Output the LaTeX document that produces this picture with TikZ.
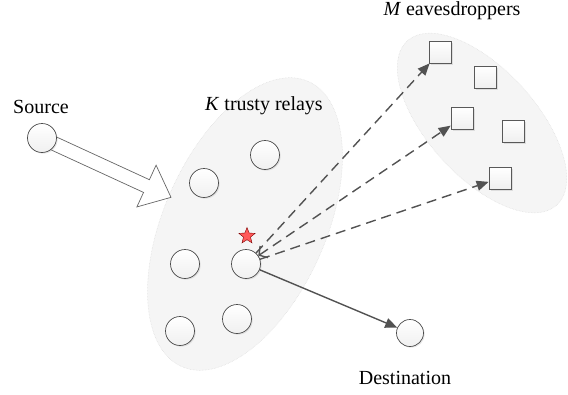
\documentclass[tikz,border=0pt]{standalone}
\usepackage{fontspec}
\setmainfont{LiberationSerif-Regular.ttf}[ItalicFont=LiberationSerif-Italic.ttf,BoldFont=LiberationSerif-Bold.ttf]
\usetikzlibrary{arrows.meta,shapes.geometric,shadows}
\begin{document}
\begin{tikzpicture}[x=1pt,y=-1pt,
  every node/.style={font=\rmfamily\fontsize{20}{24}\selectfont},
  grp/.style={fill=black!4,draw=black!14,densely dotted,line width=0.5pt},
  nodecirc/.style={circle,minimum size=29pt,inner sep=0pt,draw=black!70,line width=0.7pt,
    top color=white,bottom color=black!6,
    drop shadow={shadow xshift=1.2pt,shadow yshift=-1.2pt,opacity=0.18}},
  evesq/.style={rectangle,minimum size=22pt,inner sep=0pt,draw=black!65,line width=0.7pt,
    top color=white,bottom color=black!6,
    drop shadow={shadow xshift=1.5pt,shadow yshift=-1.5pt,opacity=0.2}},
  lnk/.style={draw=black!68,line width=1.4pt},
  tip/.style={-{Triangle[length=12pt,width=10pt]}},
  dsh/.style={dash pattern=on 10pt off 6pt},
]
\useasboundingbox (0,0) rectangle (568,394);
% groups
\draw[grp,rotate around={66:(245,224)}] (245,224) ellipse [x radius=156, y radius=81];
\draw[grp,rotate around={-47.7:(482,123)}] (482,123) ellipse [x radius=111, y radius=54];
% labels
\node (lsrc) at (41,107) {Source};
\node (lrel) at (264,106) {\textit{K} trusty relays};
\node (leve) at (452,11) {\textit{M} eavesdroppers};
\node (ldst) at (405,378) {Destination};
% hollow arrow
\begin{scope}[shift={(42,138)},rotate=-24.7,x=1pt,y=1pt]
  \draw[fill=white,draw=black!60,line width=0.7pt]
    (10,7) -- (115,7) -- (115,23) -- (142,0) -- (115,-23) -- (115,-7) -- (10,-7) -- cycle;
\end{scope}
% nodes
\node[nodecirc] (src) at (42,138) {};
\node[nodecirc] (r1) at (265,155) {};
\node[nodecirc] (r2) at (204,183) {};
\node[nodecirc] (r3) at (185,264) {};
\node[nodecirc] (r4) at (246,264) {};
\node[nodecirc] (r5) at (180,331) {};
\node[nodecirc] (r6) at (237,319) {};
\node[nodecirc,minimum size=27pt] (dst) at (410,333) {};
\node[star,star points=5,star point ratio=2.3,minimum size=17pt,inner sep=0pt,
  fill=red!65,draw=red!50!black,line width=0.4pt] (star) at (247,236) {};
\node[evesq] (e1) at (440,52) {};
\node[evesq] (e2) at (485,77) {};
\node[evesq] (e3) at (462,118) {};
\node[evesq] (e4) at (513,131) {};
\node[evesq] (e5) at (500,178) {};
% connectors
\draw[lnk,dsh,tip] (r4) -- (e1);
\draw[lnk,dsh,{Straight Barb[length=6pt,width=14pt]}-{Triangle[length=12pt,width=10pt]}] (r4) -- (e3);
\draw[lnk,dsh,tip] (r4) -- (e5);
\draw[lnk,tip] (r4) -- (dst);
\end{tikzpicture}
\end{document}
